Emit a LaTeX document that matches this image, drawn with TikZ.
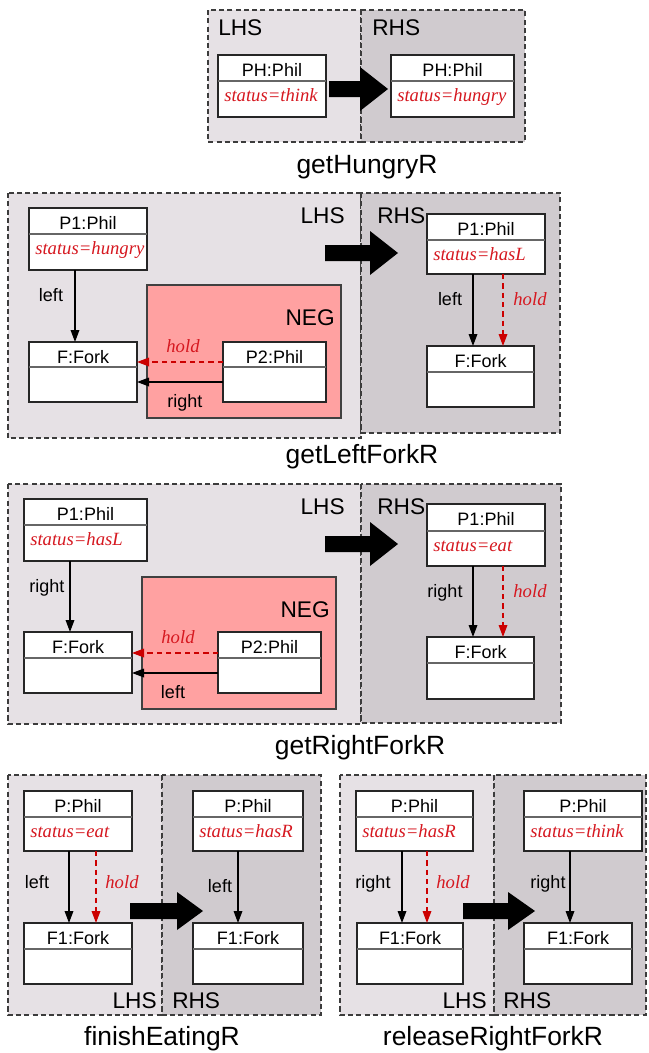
\documentclass[tikz,border=0pt]{standalone}
\usepackage{fontspec}
\setmainfont{Liberation Sans}
\newfontfamily\attrfont{Liberation Serif}
\usetikzlibrary{fit,calc,arrows.meta}

\definecolor{lhsfill}{RGB}{230,225,229}
\definecolor{rhsfill}{RGB}{208,203,207}
\definecolor{negfill}{RGB}{255,161,161}
\definecolor{frame}{RGB}{60,60,60}
\definecolor{attrred}{RGB}{214,24,32}
\definecolor{holdred}{RGB}{204,0,0}

\tikzset{
  lhsbox/.style={fill=lhsfill, draw=frame, line width=0.85pt, dash pattern=on 3.8pt off 2.4pt},
  rhsbox/.style={fill=rhsfill, draw=frame, line width=0.85pt, dash pattern=on 3.8pt off 2.4pt},
  negbox/.style={fill=negfill, draw=black!75, line width=0.8pt},
  classbox/.style={draw=black!85, fill=white, line width=0.8pt, inner sep=0pt, outer sep=0pt},
  divider/.style={draw=black!60, line width=0.8pt},
  hdr/.style={inner sep=0pt, font=\fontsize{13.5}{16}\selectfont},
  attr/.style={inner sep=0pt, text=attrred, font=\attrfont\itshape\fontsize{14}{16}\selectfont},
  elabel/.style={inner sep=0pt, font=\fontsize{13.5}{16}\selectfont},
  hlabel/.style={inner sep=0pt, text=attrred, font=\attrfont\itshape\fontsize{14}{16}\selectfont},
  sidelabel/.style={inner sep=0pt, font=\fontsize{17}{20}\selectfont},
  rulename/.style={inner sep=0pt, font=\fontsize{19.8}{22}\selectfont},
  conn/.style={draw=black, line width=0.9pt, -{Triangle[length=9pt,width=6.5pt]}},
  holdconn/.style={draw=holdred, line width=0.9pt, dash pattern=on 4pt off 3pt,
                   -{Triangle[length=9pt,width=6.5pt]}},
}

% class box: name, x1, y1, x2, y2, divider y, header, attribute
\newcommand\classbox[8]{%
  \node[classbox, fit={(#2,#3) (#4,#5)}] (#1) {};
  \draw[divider] (#2,#6) -- (#4,#6);
  \node[hdr, anchor=base] (#1-h) at ({(#2+#4)/2},{#3+21}) {#7};
  \node[attr, anchor=base west] (#1-a) at ({#2+6},{#6+20}) {#8};
}

% thick rule arrow: x start, y centre, x of head base, x of tip, head half height
\newcommand\rulearrow[5]{%
  \fill[black] ({#1},{#2-8}) -- ({#3},{#2-8}) -- ({#3},{#2-#5}) -- ({#4},{#2})
    -- ({#3},{#2+#5}) -- ({#3},{#2+8}) -- ({#1},{#2+8}) -- cycle;
}

\begin{document}
\begin{tikzpicture}[x=0.75pt, y=-0.75pt]
\useasboundingbox (0,0) rectangle (649,1053);

% ---------------- getHungryR ----------------
\draw[lhsbox] (208,10) rectangle (361,142);
\draw[rhsbox] (361,10) rectangle (525,142);
\node[sidelabel, anchor=base west] (h-lhs) at (218,35) {LHS};
\node[sidelabel, anchor=base west] (h-rhs) at (372,35) {RHS};
\classbox{hL}{218}{55}{326}{117}{81}{PH:Phil}{status=think}
\classbox{hR}{391}{55}{514}{117}{81}{PH:Phil}{status=hungry}
\rulearrow{329}{89}{360}{388}{22}
\node[rulename, anchor=base] (h-name) at (367,173) {getHungryR};

% ---------------- getLeftForkR ----------------
\draw[lhsbox] (8,193) rectangle (361,438);
\draw[rhsbox] (361,193) rectangle (560,433);
\node[sidelabel, anchor=base east] (l-lhs) at (345,223) {LHS};
\node[sidelabel, anchor=base west] (l-rhs) at (377,223) {RHS};
\node[negbox, fit={(147,285) (341,418)}, inner sep=0pt] (l-neg) {};
\node[sidelabel, anchor=base east] (l-negl) at (335,325) {NEG};
\classbox{lP1}{29}{208}{147}{270}{234}{P1:Phil}{status=hungry}
\classbox{lF}{29}{342}{137}{402}{367}{F:Fork}{}
\classbox{lP2}{223}{342}{326}{402}{367}{P2:Phil}{}
\draw[conn] ($(lP1.south west)+(46,0)$) -- ($(lF.north west)+(46,0)$)
  node[elabel, anchor=base] (l-e1) at (51,301) {left};
\draw[holdconn] ($(lP2.north west)+(0,20)$) -- ($(lF.north east)+(0,20)$)
  node[hlabel, anchor=base] (l-e2) at (183,352) {hold};
\draw[conn] ($(lP2.north west)+(0,40)$) -- ($(lF.north east)+(0,40)$)
  node[elabel, anchor=base] (l-e3) at (185,407) {right};
\classbox{lP1r}{427}{214}{545}{274}{240}{P1:Phil}{status=hasL}
\classbox{lFr}{427}{346}{534}{407}{372}{F:Fork}{}
\draw[conn] ($(lP1r.south west)+(46,0)$) -- ($(lFr.north west)+(46,0)$)
  node[elabel, anchor=base] (l-e4) at (450,305) {left};
\draw[holdconn] ($(lP1r.south west)+(76,0)$) -- ($(lFr.north west)+(76,0)$)
  node[hlabel, anchor=base] (l-e5) at (530,305) {hold};
\rulearrow{325}{253}{370}{398}{22}
\node[rulename, anchor=base] (l-name) at (362,463) {getLeftForkR};

% ---------------- getRightForkR ----------------
\draw[lhsbox] (8,484) rectangle (361,724);
\draw[rhsbox] (361,484) rectangle (561,723);
\node[sidelabel, anchor=base east] (r-lhs) at (345,514) {LHS};
\node[sidelabel, anchor=base west] (r-rhs) at (377,514) {RHS};
\node[negbox, fit={(142,577) (336,709)}, inner sep=0pt] (r-neg) {};
\node[sidelabel, anchor=base east] (r-negl) at (330,617) {NEG};
\classbox{rP1}{24}{499}{147}{561}{525}{P1:Phil}{status=hasL}
\classbox{rF}{24}{632}{132}{693}{658}{F:Fork}{}
\classbox{rP2}{218}{632}{321}{693}{658}{P2:Phil}{}
\draw[conn] ($(rP1.south west)+(46,0)$) -- ($(rF.north west)+(46,0)$)
  node[elabel, anchor=base] (r-e1) at (47,592) {right};
\draw[holdconn] ($(rP2.north west)+(0,21)$) -- ($(rF.north east)+(0,21)$)
  node[hlabel, anchor=base] (r-e2) at (178,643) {hold};
\draw[conn] ($(rP2.north west)+(0,41)$) -- ($(rF.north east)+(0,41)$)
  node[elabel, anchor=base] (r-e3) at (173,698) {left};
\classbox{rP1r}{427}{504}{545}{566}{531}{P1:Phil}{status=eat}
\classbox{rFr}{427}{637}{534}{699}{663}{F:Fork}{}
\draw[conn] ($(rP1r.south west)+(46,0)$) -- ($(rFr.north west)+(46,0)$)
  node[elabel, anchor=base] (r-e4) at (445,597) {right};
\draw[holdconn] ($(rP1r.south west)+(76,0)$) -- ($(rFr.north west)+(76,0)$)
  node[hlabel, anchor=base] (r-e5) at (530,597) {hold};
\rulearrow{325}{544}{370}{398}{22}
\node[rulename, anchor=base] (r-name) at (360,754) {getRightForkR};

% ---------------- finishEatingR ----------------
\draw[lhsbox] (8,775) rectangle (162,1015);
\draw[rhsbox] (162,775) rectangle (321,1015);
\node[sidelabel, anchor=base east] (f-lhs) at (157,1008) {LHS};
\node[sidelabel, anchor=base west] (f-rhs) at (172,1008) {RHS};
\classbox{fP}{24}{791}{132}{851}{817}{P:Phil}{status=eat}
\classbox{fF}{24}{923}{132}{984}{949}{F1:Fork}{}
\draw[conn] ($(fP.south west)+(45,0)$) -- ($(fF.north west)+(45,0)$)
  node[elabel, anchor=base] (f-e1) at (37,888) {left};
\draw[holdconn] ($(fP.south west)+(72,0)$) -- ($(fF.north west)+(72,0)$)
  node[hlabel, anchor=base] (f-e2) at (122,888) {hold};
\classbox{fPr}{193}{791}{303}{851}{817}{P:Phil}{status=hasR}
\classbox{fFr}{193}{923}{303}{984}{949}{F1:Fork}{}
\draw[conn] ($(fPr.south west)+(45,0)$) -- ($(fFr.north west)+(45,0)$)
  node[elabel, anchor=base] (f-e3) at (220,892) {left};
\rulearrow{130}{911}{177}{203}{19}
\node[rulename, anchor=base] (f-name) at (162,1045) {finishEatingR};

% ---------------- releaseRightForkR ----------------
\draw[lhsbox] (340,775) rectangle (494,1015);
\draw[rhsbox] (494,775) rectangle (646,1015);
\node[sidelabel, anchor=base east] (rr-lhs) at (487,1008) {LHS};
\node[sidelabel, anchor=base west] (rr-rhs) at (503,1008) {RHS};
\classbox{rrP}{356}{791}{473}{851}{817}{P:Phil}{status=hasR}
\classbox{rrF}{357}{923}{463}{984}{949}{F1:Fork}{}
\draw[conn] ($(rrP.south west)+(46,0)$) -- ($(rrP.south west |- rrF.north)+(46,0)$)
  node[elabel, anchor=base] (rr-e1) at (373,888) {right};
\draw[holdconn] ($(rrP.south west)+(71,0)$) -- ($(rrP.south west |- rrF.north)+(71,0)$)
  node[hlabel, anchor=base] (rr-e2) at (453,888) {hold};
\classbox{rrPr}{524}{791}{642}{851}{817}{P:Phil}{status=think}
\classbox{rrFr}{524}{923}{632}{984}{949}{F1:Fork}{}
\draw[conn] ($(rrPr.south west)+(46,0)$) -- ($(rrFr.north west)+(46,0)$)
  node[elabel, anchor=base] (rr-e3) at (548,888) {right};
\rulearrow{463}{911}{508}{535}{19}
\node[rulename, anchor=base] (rr-name) at (493,1045) {releaseRightForkR};
\end{tikzpicture}
\end{document}
